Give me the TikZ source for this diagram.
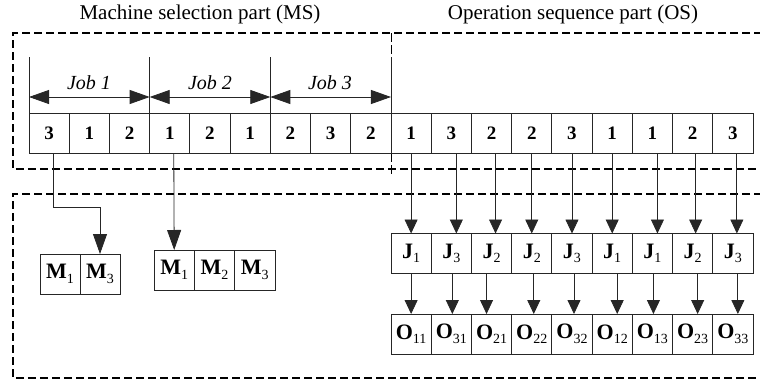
\documentclass[tikz,border=0pt]{standalone}
\usepackage{fontspec}
\setmainfont{Liberation Serif}
\usetikzlibrary{arrows.meta,calc}
\newcommand{\sbx}[2]{\textbf{#1}\raisebox{-0.45ex}{\fontsize{14}{14}\selectfont\mdseries #2}}
\begin{document}
\begin{tikzpicture}[x=1pt,y=-1pt,
  cellbox/.style={draw=black!85,line width=0.8pt,minimum width=40.22pt,minimum height=40pt,inner sep=0pt,outer sep=0pt,font=\fontsize{19}{22}\selectfont\bfseries},
  letbox/.style={cellbox,font=\fontsize{22}{24}\selectfont},
  dbox/.style={line width=1.3pt,dash pattern=on 8pt off 4pt},
  sepline/.style={line width=0.7pt,dash pattern=on 9pt off 3pt},
  thin/.style={line width=0.8pt,draw=black!85},
  bigarr/.style={thin,-{Triangle[length=20pt,width=14pt]}},
  smallarr/.style={thin,-{Triangle[length=14pt,width=13pt]}},
  titletext/.style={font=\fontsize{21}{24}\selectfont,inner sep=0pt},
  joblab/.style={font=\fontsize{20}{22}\selectfont\itshape,inner sep=0pt}]
\useasboundingbox (0,0) rectangle (760,383);
% titles
\node[titletext] (tms) at (200,14) {Machine selection part (MS)};
\node[titletext] (tos) at (573,14) {Operation sequence part (OS)};
% dashed boxes
\draw[dbox] (762,33) -- (13,33) -- (13,169) -- (762,169);
\draw[dbox] (762,194) -- (13,194) -- (13,378) -- (762,378);
\coordinate (sepT) at (391,33);
\coordinate (sepB) at (391,174);
\draw[sepline] (sepT) -- (sepB);
% MS cells
\foreach \v [count=\i] in {3,1,2,1,2,1,2,3,2}{
  \node[cellbox] (ms\i) at ({29+40.22*(\i-0.5)},133) {\v};
}
% OS cells
\foreach \v [count=\i] in {1,3,2,2,3,1,1,2,3}{
  \node[cellbox] (os\i) at ({391+40.22*(\i-0.5)},133) {\v};
}
% J row
\foreach \v [count=\i] in {1,3,2,2,3,1,1,2,3}{
  \node[letbox] (j\i) at ({391+40.22*(\i-0.5)},253.5) {\sbx{J}{\v}};
}
% O row
\foreach \v [count=\i] in {11,31,21,22,32,12,13,23,33}{
  \node[letbox] (o\i) at ({391+40.22*(\i-0.5)},334) {\sbx{O}{\v}};
}
% job brackets
\coordinate (b0) at (ms1.north west);
\coordinate (b1) at (ms3.north east);
\coordinate (b2) at (ms6.north east);
\coordinate (b3) at (ms9.north east);
\foreach \k in {0,1,2,3}{
  \draw[thin] (b\k) -- ++(0,-56);
}
\coordinate (b0a) at ($(b0)+(0,-16)$);
\coordinate (b1a) at ($(b1)+(0,-16)$);
\coordinate (b2a) at ($(b2)+(0,-16)$);
\coordinate (b3a) at ($(b3)+(0,-16)$);
\draw[thin,{Triangle[length=20pt,width=14pt]}-{Triangle[length=20pt,width=14pt]}] (b0a) -- (b1a);
\draw[thin,{Triangle[length=20pt,width=14pt]}-{Triangle[length=20pt,width=14pt]}] (b1a) -- (b2a);
\draw[thin,{Triangle[length=20pt,width=14pt]}-{Triangle[length=20pt,width=14pt]}] (b2a) -- (b3a);
\node[joblab] (job1) at (89,83) {Job 1};
\node[joblab] (job2) at (210,83) {Job 2};
\node[joblab] (job3) at (330,83) {Job 3};
% machine boxes
\node[letbox,minimum width=40pt] (ma1) at (60,274) {\sbx{M}{1}};
\node[letbox,minimum width=40pt] (ma2) at (100,274) {\sbx{M}{3}};
\node[letbox,minimum width=40.3pt] (mb1) at (174.2,270) {\sbx{M}{1}};
\node[letbox,minimum width=40.3pt] (mb2) at (214.5,270) {\sbx{M}{2}};
\node[letbox,minimum width=40.3pt] (mb3) at (254.8,270) {\sbx{M}{3}};
% MS arrows
\draw[bigarr] ([xshift=4pt]ms1.south) |- ($(ma2.north)+(0,-47)$) -- (ma2.north);
\draw[bigarr] ([xshift=4pt]ms4.south) -- (mb1.north);
% OS -> J arrows
\foreach \i/\d in {1/0,2/5,3/4,4/0,5/0,6/0,7/5,8/3,9/4}{
  \draw[smallarr] ([xshift=\d pt]os\i.south) -- ([xshift=\d pt]j\i.north);
}
% J -> O arrows
\foreach \i/\d in {1/0,2/1,3/-5,4/2,5/2,6/5,7/1,8/5,9/5}{
  \draw[smallarr] ([xshift=\d pt]j\i.south) -- ([xshift=\d pt]o\i.north);
}
\end{tikzpicture}
\end{document}
